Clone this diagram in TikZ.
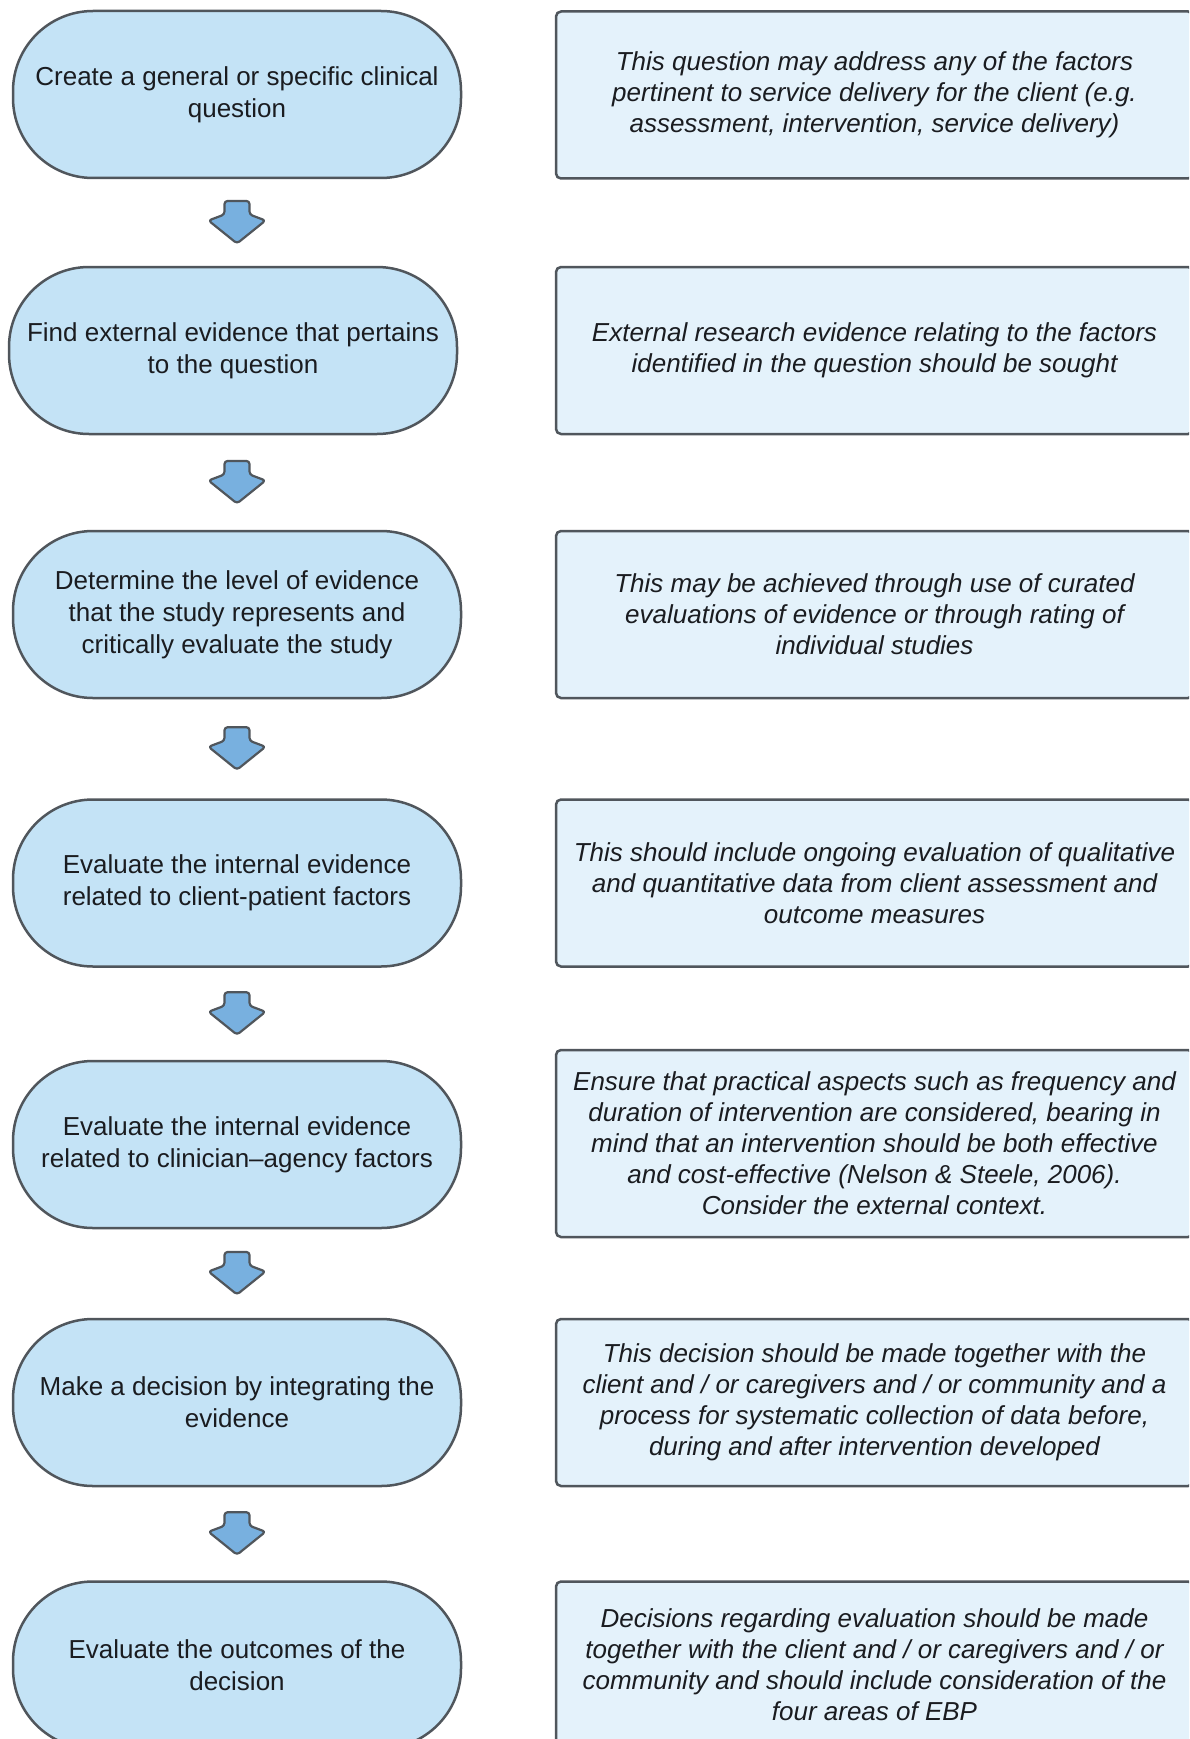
\documentclass[tikz,border=0pt]{standalone}
\usepackage{fontspec}
\setmainfont{Liberation Sans}
\usetikzlibrary{calc}
\definecolor{edge}{HTML}{50565C}
\definecolor{stadfill}{HTML}{C4E3F6}
\definecolor{notefill}{HTML}{E4F2FB}
\definecolor{arrfill}{HTML}{78B0DF}
\definecolor{ink}{HTML}{1A1C20}
\tikzset{
 stadium/.style={draw=edge, line width=2.5pt, fill=stadfill, rounded corners=80pt,
   minimum width=448pt, minimum height=167pt, inner sep=0pt, align=center, text=ink,
   font=\fontsize{26}{32}\selectfont},
 note/.style={draw=edge, line width=2.5pt, fill=notefill, rounded corners=5pt,
   minimum width=637pt, minimum height=167pt, inner sep=0pt, align=center, text=ink,
   font=\fontsize{26}{31}\selectfont\itshape},
 blockarrow/.style={draw=edge, line width=2.2pt, fill=arrfill, rounded corners=3pt, line join=round},
 pics/downarrow/.style={code={
   \draw[blockarrow] (-12.5,-21.5) -- (12.5,-21.5) -- (12.5,-8) -- (28.5,-2) -- (0,21)
     -- (-28.5,-2) -- (-12.5,-8) -- cycle;
 }}
}
\begin{document}
\begin{tikzpicture}[x=1pt,y=-1pt]
\clip (0,0) rectangle (1189,1739);
\fill[white] (0,0) rectangle (1189,1739);
\coordinate (axis) at (237,0);

\node[stadium] (s1) at (237,94.5) {Create a general or specific clinical\\question};
\node[stadium] (s2) at (233,350.5) {Find external evidence that pertains\\to the question};
\node[stadium] (s3) at (237,614.5) {Determine the level of evidence\\that the study represents and\\critically evaluate the study};
\node[stadium] (s4) at (237,883) {Evaluate the internal evidence\\related to client-patient factors};
\node[stadium] (s5) at (237,1144.5) {Evaluate the internal evidence\\related to clinician–agency factors};
\node[stadium] (s6) at (237,1402.5) {Make a decision by integrating the\\evidence};
\node[stadium] (s7) at (237,1665) {Evaluate the outcomes of the\\decision};

\node[note] (n1) at (874.5,95) {This question may address any of the factors\\pertinent to service delivery for the client (e.g.\\assessment, intervention, service delivery)};
\node[note] (n2) at (874.5,350.5) {External research evidence relating to the factors\\identified in the question should be sought};
\node[note] (n3) at (874.5,614.5) {This may be achieved through use of curated\\evaluations of evidence or through rating of\\individual studies};
\node[note] (n4) at (874.5,883) {This should include ongoing evaluation of qualitative\\and quantitative data from client assessment and\\outcome measures};
\node[note, minimum height=187pt] (n5) at (874.5,1143.5) {Ensure that practical aspects such as frequency and\\duration of intervention are considered, bearing in\\mind that an intervention should be both effective\\and cost-effective (Nelson \& Steele, 2006).\\Consider the external context.};
\node[note] (n6) at (874.5,1402.5) {This decision should be made together with the\\client and / or caregivers and / or community and a\\process for systematic collection of data before,\\during and after intervention developed};
\node[note] (n7) at (874.5,1665) {Decisions regarding evaluation should be made\\together with the client and / or caregivers and / or\\community and should include consideration of the\\four areas of EBP};

\pic at ($(s1.south -| axis)!0.5!(s2.north -| axis)$) {downarrow};
\pic at ($(s2.south -| axis)!0.5!(s3.north -| axis)$) {downarrow};
\pic at ($(s3.south -| axis)!0.5!(s4.north -| axis)$) {downarrow};
\pic at ($(s4.south -| axis)!0.5!(s5.north -| axis)$) {downarrow};
\pic at ($(s5.south -| axis)!0.5!(s6.north -| axis)$) {downarrow};
\pic at ($(s6.south -| axis)!0.5!(s7.north -| axis)$) {downarrow};
\end{tikzpicture}
\end{document}
